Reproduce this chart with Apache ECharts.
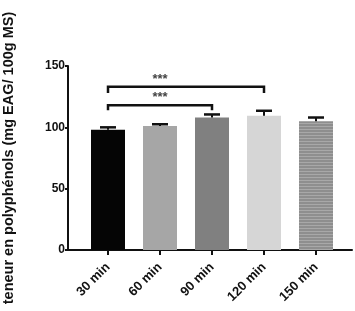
<!DOCTYPE html>
<html><head><meta charset="utf-8">
<script src="https://cdn.jsdelivr.net/npm/echarts@6/dist/echarts.min.js"></script>
<style>html,body{margin:0;padding:0;background:#fff}#c{width:355px;height:311px}</style>
</head><body><div id="c"></div>
<script>
const categories = ['30 min', '60 min', '90 min', '120 min', '150 min'];
const values = [98, 101, 108, 109.5, 105];
const errors = [2, 1.5, 2.5, 4, 3];
const barColors = ['#050505', '#a6a6a6', '#808080', '#d6d6d6', '#8e8e8e'];
const yTicks = [0, 50, 100, 150];
// brackets: [fromIndex, toIndex, lineLevel, endLevel, starX(category units), label]
const brackets = [
  [0, 2, 118, 114, 0.9, '***'],
  [0, 3, 133, 128, 1.32, '***']
];
const yName = 'teneur en polyphénols (mg EAG/ 100g MS)';

const FONT = 'Liberation Sans, Arial, sans-serif';
const chart = echarts.init(document.getElementById('c'), null, {renderer: 'canvas'});
const option = {
  animation: false,
  grid: [
    {left: 82, right: 13, top: 66, bottom: 61, containLabel: false, outerBoundsMode: 'none'},
    {left: 68, right: 3, top: 66, bottom: 61, containLabel: false, outerBoundsMode: 'none'}
  ],
  xAxis: [
    {
      type: 'category', data: categories, gridIndex: 0,
      axisLine: {show: false},
      axisTick: {show: true, alignWithLabel: true, length: 5, lineStyle: {color: '#111', width: 2}},
      axisLabel: {rotate: 45, fontSize: 13, fontWeight: 'bold', color: '#111', fontFamily: FONT, margin: 15}
    },
    {
      type: 'value', gridIndex: 1, min: 0, max: 1,
      axisLine: {show: true, onZero: false, lineStyle: {color: '#111', width: 2}},
      axisTick: {show: false}, axisLabel: {show: false}, splitLine: {show: false}
    }
  ],
  yAxis: [
    {
      type: 'value', gridIndex: 0, min: yTicks[0], max: yTicks[yTicks.length - 1], interval: 50,
      offset: 14,
      axisLine: {show: true, lineStyle: {color: '#111', width: 2}},
      axisTick: {show: true, length: 3, lineStyle: {color: '#111', width: 2}},
      axisLabel: {fontSize: 12, fontWeight: 'bold', color: '#111', fontFamily: FONT, margin: 3},
      splitLine: {show: false},
      name: yName, nameLocation: 'middle', nameGap: 52,
      nameTextStyle: {fontSize: 14.5, fontWeight: 'bold', color: '#111', fontFamily: FONT}
    },
    {
      type: 'value', gridIndex: 1, min: 0, max: 1, show: false
    }
  ],
  series: [
    {
      type: 'bar', xAxisIndex: 0, yAxisIndex: 0, barWidth: 34,
      data: values.map((v, i) => ({
        value: v,
        itemStyle: i === 4 ? {
          color: barColors[i],
          decal: {symbol: 'rect', color: 'rgba(200,200,200,0.45)', dashArrayX: [1, 0], dashArrayY: [1, 2], rotation: 0, symbolSize: 1}
        } : {color: barColors[i]}
      }))
    },
    {
      type: 'custom', xAxisIndex: 0, yAxisIndex: 0, z: 5,
      data: values.map((v, i) => [i, v, v + errors[i]]),
      renderItem: function (params, api) {
        const p0 = api.coord([api.value(0), api.value(1)]);
        const p1 = api.coord([api.value(0), api.value(2)]);
        return {
          type: 'group', children: [
            {type: 'line', shape: {x1: p0[0], y1: p0[1], x2: p1[0], y2: p1[1]}, style: {stroke: '#111', lineWidth: 2}},
            {type: 'line', shape: {x1: p1[0] - 8, y1: p1[1], x2: p1[0] + 8, y2: p1[1]}, style: {stroke: '#111', lineWidth: 2.5}}
          ]
        };
      }
    },
    {
      type: 'custom', xAxisIndex: 0, yAxisIndex: 0, z: 6,
      data: brackets,
      renderItem: function (params, api) {
        const b = brackets[params.dataIndex];
        const a = api.coord([b[0], b[2]]);
        const c = api.coord([b[1], b[2]]);
        const ae = api.coord([b[0], b[3]]);
        const ce = api.coord([b[1], b[3]]);
        const s = api.coord([b[4], b[2]]);
        return {
          type: 'group', children: [
            {type: 'polyline', shape: {points: [[ae[0], ae[1]], [a[0], a[1]], [c[0], c[1]], [ce[0], ce[1]]]},
             style: {stroke: '#111', lineWidth: 2.5, fill: null}},
            {type: 'text', style: {x: s[0], y: a[1] - 1, text: b[5], align: 'center', verticalAlign: 'bottom',
             fill: '#444', font: 'bold 13px ' + FONT}}
          ]
        };
      }
    }
  ]
};
chart.setOption(option);
</script></body></html>
